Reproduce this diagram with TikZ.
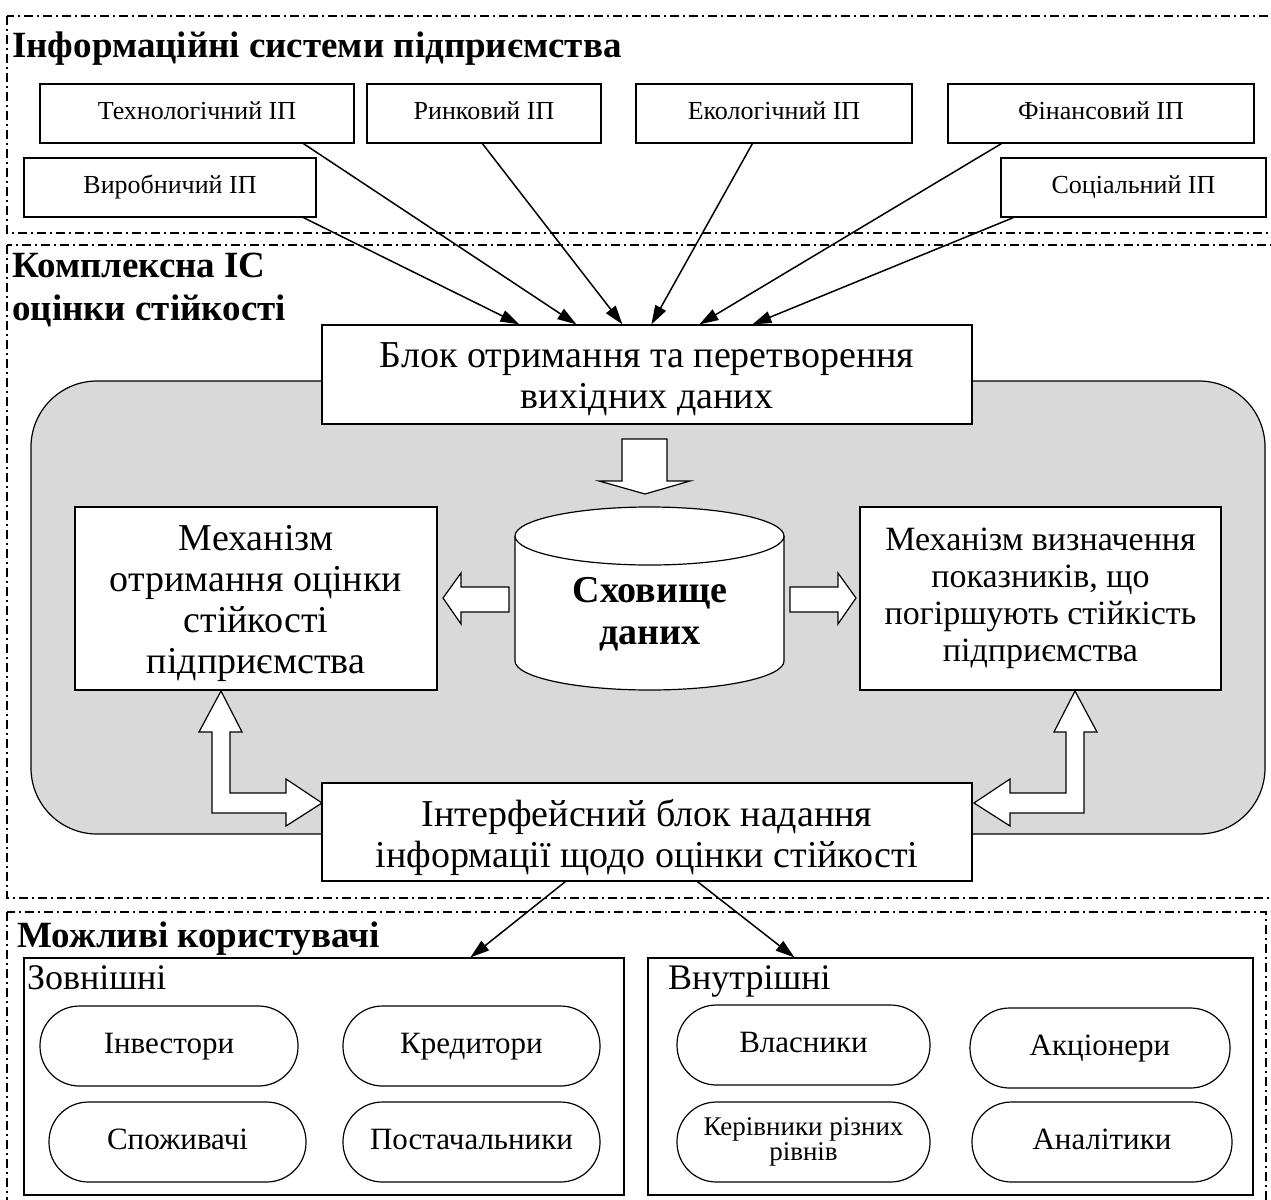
\documentclass[tikz,border=0pt]{standalone}
\usepackage{fontspec}
\setmainfont{Liberation Serif}
\usetikzlibrary{arrows.meta}
\begin{document}
\begin{tikzpicture}[x=1pt,y=-1pt,
  frame/.style={line width=1.3pt, dash pattern=on 9pt off 4pt on 2pt off 4pt},
  box/.style={draw, line width=1.2pt, fill=white, inner sep=2pt, align=center},
  src/.style={box, font=\fontsize{26}{30}\selectfont, text height=18pt, text depth=6pt},
  bigtxt/.style={inner sep=0pt, align=center, font=\fontsize{38}{41}\selectfont},
  usr/.style={draw, line width=1.2pt, fill=white},
  oval/.style={draw, line width=1.2pt, fill=white, rounded corners=39.5pt, minimum height=80, align=center, font=\fontsize{31}{34}\selectfont},
  ovtxt/.style={oval, text height=21pt, text depth=7pt},
  conn/.style={line width=1.5pt, -{Triangle[length=19pt,width=12pt]}},
  barrow/.style={draw, line width=1.2pt, fill=white, line join=miter},
  ttl/.style={anchor=base west, inner sep=0pt, font=\bfseries\fontsize{37}{43}\selectfont},
  grp/.style={anchor=base west, inner sep=0pt, font=\fontsize{36}{40}\selectfont}
]
\useasboundingbox (0,0) rectangle (1271,1199);

% frames
\draw[frame] (7,16) rectangle (1285,233);
\draw[frame] (7,245) rectangle (1285,898);
\draw[frame] (7,912) rectangle (1266,1215);

% titles
\node[ttl] (t1) at (12,58) {Інформаційні системи підприємства};
\node[ttl] (t2a) at (12,277) {Комплексна ІС};
\node[ttl] (t2b) at (12,320) {оцінки стійкості};
\node[ttl] (t3) at (17,947) {Можливі користувачі};

% source boxes
\node[src, minimum width=314, minimum height=59] (tech) at (197,113.5) {Технологічний ІП};
\node[src, minimum width=234, minimum height=59] (market) at (484,113.5) {Ринковий ІП};
\node[src, minimum width=276, minimum height=59] (eco) at (774,113.5) {Екологічний ІП};
\node[src, minimum width=306, minimum height=59] (fin) at (1101,113.5) {Фінансовий ІП};
\node[src, minimum width=292, minimum height=59] (prod) at (170,187.5) {Виробничий ІП};
\node[src, minimum width=265, minimum height=59] (soc) at (1133.5,187.5) {Соціальний ІП};

% grey area
\draw[fill=black!15, line width=1.2pt, rounded corners=66pt] (31,381) rectangle (1265,834);

% central blocks
\node[box, minimum width=650, minimum height=99] (blok) at (647,374.5) {};
\node[bigtxt] (blokt) at ([yshift=-5pt]blok.center) {Блок отримання та перетворення\\вихідних даних};
\node[box, minimum width=362, minimum height=183] (mech1) at (256,598.5) {};
\node[bigtxt] (mech1t) at ([yshift=-5pt]mech1.center) {Механізм\\отримання оцінки\\стійкості\\підприємства};
\node[box, font=\fontsize{34}{37}\selectfont, minimum width=361, minimum height=183] (mech2) at (1040.5,598.5) {Механізм визначення\\показників, що\\погіршують стійкість\\підприємства};
\node[box, minimum width=650, minimum height=98] (intf) at (647,832) {};
\node[bigtxt] (intft) at ([yshift=-5pt]intf.center) {Інтерфейсний блок надання\\інформації щодо оцінки стійкості};

% cylinder
\draw[fill=white, line width=1.2pt] (515,536) -- (515,661) arc[start angle=180, end angle=360, x radius=134.5pt, y radius=29pt] -- (784,536);
\draw[fill=white, line width=1.2pt] (649.5,536) ellipse [x radius=134.5pt, y radius=29pt];
\node[align=center, inner sep=0pt, font=\bfseries\fontsize{38}{42}\selectfont] (store) at (650,614) {Сховище\\даних};

% block arrows
\draw[barrow] (622,439) -- (667,439) -- (667,481) -- (690,481) -- (645,494) -- (599,481) -- (622,481) -- cycle;
\draw[barrow] (790,587) -- (838,587) -- (838,573) -- (856,598) -- (838,624) -- (838,612) -- (790,612) -- cycle;
\draw[barrow] (509,587) -- (461,587) -- (461,573) -- (443,598) -- (461,624) -- (461,612) -- (509,612) -- cycle;
\draw[barrow] (221,691) -- (242,732) -- (230,732) -- (230,793) -- (286,793) -- (286,779) -- (322,803) -- (286,826) -- (286,813) -- (212,813) -- (212,732) -- (199,732) -- cycle;
\draw[barrow] (1075,691) -- (1054,732) -- (1066,732) -- (1066,793) -- (1010,793) -- (1010,779) -- (974,803) -- (1010,826) -- (1010,813) -- (1084,813) -- (1084,732) -- (1097,732) -- cycle;

% source connectors
\draw[conn] ([xshift=280pt]prod.south west) -- ([xshift=198pt]blok.north west);
\draw[conn] ([xshift=264pt]tech.south west) -- ([xshift=255pt]blok.north west);
\draw[conn] ([xshift=116pt]market.south west) -- ([xshift=301pt]blok.north west);
\draw[conn] ([xshift=117pt]eco.south west) -- ([xshift=330pt]blok.north west);
\draw[conn] ([xshift=54pt]fin.south west) -- ([xshift=378pt]blok.north west);
\draw[conn] ([xshift=13pt]soc.south west) -- ([xshift=431pt]blok.north west);

% user groups
\node[usr, minimum width=600, minimum height=237, inner sep=0pt] (ext) at (324,1076.5) {};
\node[usr, minimum width=605, minimum height=237, inner sep=0pt] (int) at (950.5,1076.5) {};
\node[grp] (extl) at (27,989) {Зовнішні};
\node[grp] (intl) at (668,989) {Внутрішні};

\draw[conn] ([xshift=244pt]intf.south west) -- ([xshift=447pt]ext.north west);
\draw[conn] ([xshift=376pt]intf.south west) -- ([xshift=147pt]int.north west);

% ovals
\node[ovtxt, minimum width=258] (inv) at (169,1046) {Інвестори};
\node[ovtxt, minimum width=257] (cred) at (471.5,1046) {Кредитори};
\node[ovtxt, minimum width=257] (cons) at (177.5,1142) {Споживачі};
\node[ovtxt, minimum width=257] (supp) at (471.5,1142) {Постачальники};
\node[ovtxt, minimum width=253] (own) at (803.5,1045) {Власники};
\node[ovtxt, minimum width=260] (shr) at (1100,1048) {Акціонери};
\node[oval, minimum width=253, font=\fontsize{27}{25}\selectfont] (mgr) at (803.5,1142) {Керівники різних\\рівнів};
\node[ovtxt, minimum width=260] (anl) at (1102,1142) {Аналітики};
\end{tikzpicture}
\end{document}
